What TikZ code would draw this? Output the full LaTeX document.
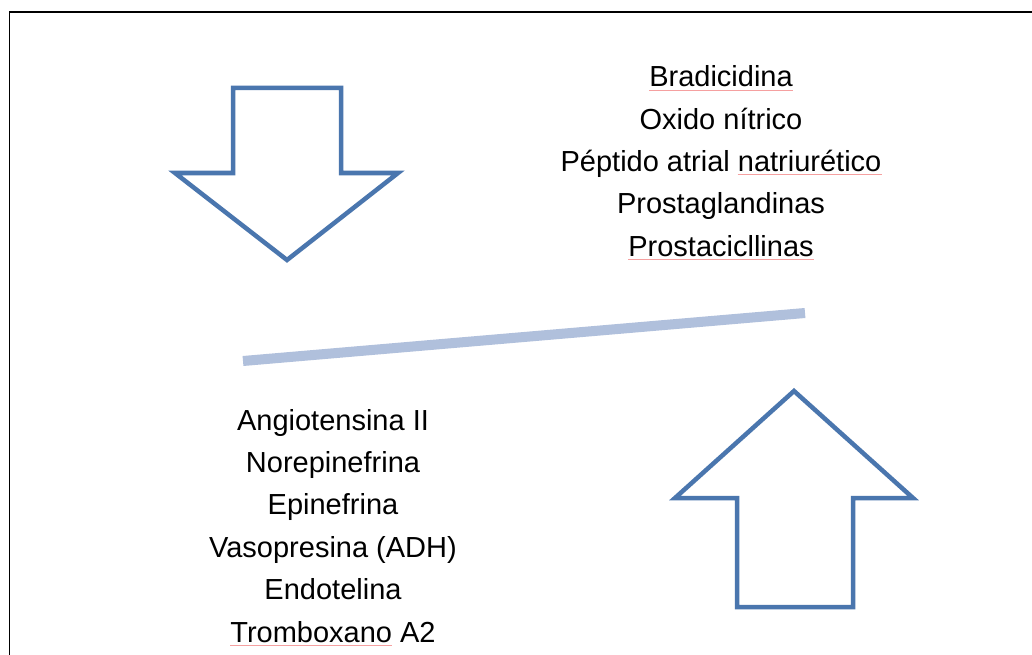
\documentclass[tikz,border=0pt]{standalone}
\usepackage{fontspec}
\setmainfont{Liberation Sans}
\definecolor{arrowblue}{RGB}{74,118,174}
\definecolor{barblue}{RGB}{176,192,220}
\definecolor{spellred}{RGB}{245,160,160}
\tikzset{
  bigarrow/.style={draw=arrowblue, line width=4.5pt, miter limit=10, line join=miter},
  txt/.style={anchor=base, inner sep=0pt, font=\fontsize{29}{35}\selectfont},
  bar/.style={draw=barblue, line width=10pt, line cap=butt},
  spell/.style={draw=spellred, line width=0.9pt}
}
\begin{document}
\begin{tikzpicture}[x=1pt,y=-1pt]
\useasboundingbox (0,0) rectangle (1032,655);
\fill[white] (0,0) rectangle (1032,655);
% frame (only top and left edges visible)
\draw[black, line width=1.8pt] (9.5,670) -- (9.5,12) -- (1045,12);
% down arrow
\draw[bigarrow] (233,88) -- (341,88) -- (341,173) -- (398,173) -- (287,260) -- (175,173) -- (233,173) -- cycle;
% up arrow
\draw[bigarrow] (794,391) -- (913,498) -- (853,498) -- (853,607) -- (737,607) -- (737,498) -- (675,498) -- cycle;
% bar
\coordinate (barL) at (243,361);
\coordinate (barR) at (805,313);
\draw[bar] (barL) -- (barR);
% upper text
\node[txt] (t1) at (721,87) {Bradicidina};
\node[txt] (t2) at (721,129.3) {Oxido nítrico};
\node[txt] (t3) at (721,171.5) {Péptido atrial natriurético};
\node[txt] (t4) at (721,213.8) {Prostaglandinas};
\node[txt] (t5) at (721,256) {Prostacicllinas};
% lower text
\node[txt] (b1) at (333,430) {Angiotensina II};
\node[txt] (b2) at (333,472.4) {Norepinefrina};
\node[txt] (b3) at (333,514.8) {Epinefrina};
\node[txt] (b4) at (333,557.2) {Vasopresina (ADH)};
\node[txt] (b5) at (333,599.6) {Endotelina};
\node[txt] (b6) at (333,642) {Tromboxano A2};
% spell-check underlines
\node[txt, anchor=base east] (u3) at (t3.base east) {\phantom{natriurético}};
\node[txt, anchor=base west] (u6) at (b6.base west) {\phantom{Tromboxano}};
\foreach \n in {t1,u3,t5,u6}
  \draw[spell] ([yshift=-3pt]\n.base west) -- ([yshift=-3pt]\n.base east);
\end{tikzpicture}
\end{document}
